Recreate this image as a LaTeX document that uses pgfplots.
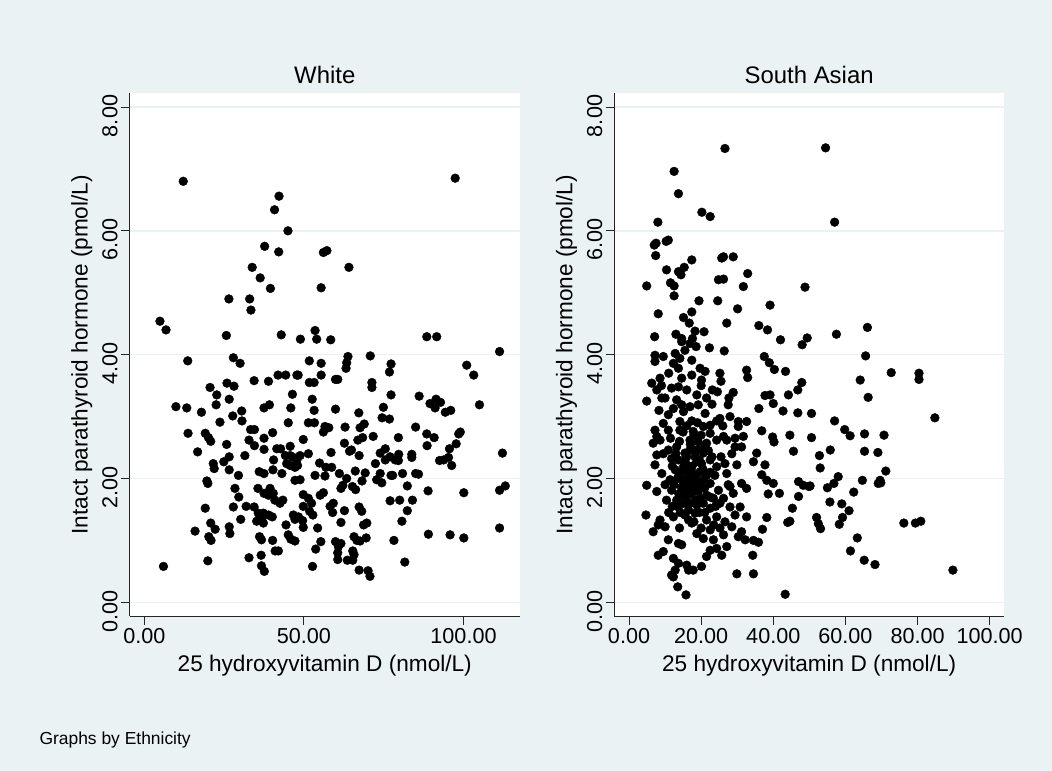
\documentclass[border=0pt]{standalone}
\usepackage{fontspec}
\setmainfont{Liberation Sans}
\usepackage{pgfplots}
\usepackage{pgfplotstable}
\pgfplotsset{compat=1.18}
\definecolor{stbg}{RGB}{234,242,243}
\definecolor{stgrid}{RGB}{234,242,243}

\pgfplotstableread{
x y
12.2 6.80
97.4 6.85
42.2 6.56
40.8 6.34
45.0 6.00
37.7 5.75
42.1 5.66
56.1 5.65
57.2 5.68
64.1 5.41
33.8 5.41
36.3 5.24
39.5 5.07
55.4 5.08
26.5 4.90
33.0 4.90
33.4 4.72
4.9 4.54
6.8 4.40
25.7 4.31
42.9 4.32
48.9 4.25
53.5 4.39
54.0 4.25
58.4 4.24
88.5 4.29
91.6 4.29
111.3 4.05
70.8 3.98
63.8 3.97
63.4 3.87
63.2 3.78
13.6 3.90
27.9 3.95
30.0 3.86
51.7 3.90
55.4 3.86
77.3 3.85
76.8 3.72
101.0 3.83
103.2 3.67
41.9 3.67
44.3 3.67
47.8 3.67
48.2 3.67
55.4 3.67
34.4 3.58
38.9 3.57
59.9 3.60
60.6 3.60
71.3 3.55
71.3 3.47
51.7 3.55
53.2 3.55
20.6 3.47
25.9 3.54
28.1 3.49
22.7 3.35
22.5 3.19
46.4 3.36
26.6 3.28
52.6 3.28
77.3 3.35
86.1 3.33
91.4 3.28
92.8 3.23
89.5 3.21
91.1 3.14
105.0 3.19
9.9 3.16
13.3 3.14
37.5 3.14
39.2 3.19
45.9 3.14
53.2 3.10
59.9 3.12
74.9 3.15
17.9 3.07
30.5 3.09
27.7 3.01
30.6 2.93
67.2 3.06
94.3 3.07
96.0 3.10
74.5 2.98
76.8 2.96
23.7 2.91
45.1 2.90
51.4 2.90
53.3 2.90
56.6 2.84
57.8 2.82
56.1 2.75
62.9 2.83
68.9 2.88
67.6 2.82
85.0 2.83
33.3 2.79
34.5 2.79
40.2 2.74
13.7 2.73
19.1 2.73
20.1 2.66
20.8 2.60
88.5 2.72
90.8 2.66
98.5 2.72
99.0 2.75
97.7 2.56
37.5 2.65
49.8 2.63
68.4 2.66
66.9 2.62
64.9 2.46
64.3 2.44
62.7 2.57
71.7 2.68
79.6 2.66
32.8 2.62
34.5 2.53
25.8 2.55
42.7 2.48
45.7 2.52
41.5 2.48
88.6 2.53
95.6 2.48
37.5 2.47
75.5 2.48
73.9 2.41
77.0 2.35
75.5 2.30
16.7 2.43
31.5 2.37
26.6 2.35
51.4 2.40
44.2 2.37
45.7 2.37
46.7 2.34
47.8 2.30
48.8 2.37
47.2 2.18
45.7 2.21
48.0 2.21
44.6 2.24
58.5 2.42
67.3 2.37
83.8 2.39
83.8 2.34
79.7 2.39
78.6 2.30
79.6 2.29
92.5 2.29
93.8 2.30
95.3 2.34
112.2 2.41
40.5 2.30
40.3 2.14
21.6 2.24
21.9 2.16
24.9 2.27
26.6 2.14
54.9 2.25
56.9 2.18
58.7 2.18
72.4 2.24
96.3 2.21
36.0 2.11
37.5 2.08
43.1 2.08
29.5 2.05
53.5 2.05
56.6 2.04
61.1 2.08
63.4 2.00
66.1 2.12
69.2 2.09
73.9 2.08
72.8 1.98
74.4 1.93
77.3 2.05
77.8 2.05
80.9 2.08
85.9 2.07
85.0 2.08
47.2 1.97
48.8 1.98
68.2 1.96
19.6 1.96
19.9 1.92
111.3 1.81
113.1 1.88
28.4 1.84
35.6 1.84
39.4 1.84
37.5 1.76
38.9 1.73
40.4 1.76
61.6 1.84
62.2 1.89
65.2 1.87
66.2 1.82
82.4 1.88
88.9 1.80
100.1 1.77
49.8 1.74
56.1 1.77
55.1 1.73
29.6 1.70
40.9 1.65
42.5 1.60
43.4 1.65
77.0 1.64
80.0 1.65
84.0 1.65
51.4 1.68
52.4 1.60
58.2 1.55
59.2 1.60
67.3 1.54
68.1 1.47
31.9 1.55
34.4 1.54
27.9 1.54
19.1 1.52
49.8 1.55
51.8 1.47
52.8 1.41
35.7 1.44
37.3 1.44
35.2 1.31
36.7 1.34
59.0 1.45
62.7 1.48
82.4 1.48
40.1 1.38
38.9 1.41
46.7 1.41
48.3 1.38
47.2 1.34
30.2 1.34
37.3 1.28
20.8 1.28
22.2 1.18
44.4 1.25
49.6 1.32
61.6 1.29
69.7 1.28
68.7 1.25
80.7 1.31
26.6 1.22
26.8 1.11
49.8 1.21
54.3 1.20
111.3 1.20
15.9 1.15
89.0 1.10
95.8 1.09
100.1 1.04
20.2 1.06
20.9 1.00
36.1 1.06
36.7 1.01
40.2 1.00
45.1 1.09
45.9 1.02
47.2 0.99
55.3 0.98
59.9 0.98
61.6 0.95
60.8 0.90
65.7 1.06
66.6 1.00
67.6 0.99
69.5 1.04
78.2 1.00
53.7 0.86
41.0 0.83
42.0 0.83
60.6 0.80
60.6 0.69
65.3 0.83
65.7 0.77
32.8 0.72
36.6 0.76
19.9 0.67
63.6 0.68
65.3 0.68
81.6 0.65
6.0 0.58
52.7 0.58
36.7 0.59
37.6 0.50
67.3 0.52
70.1 0.51
70.7 0.42
}\whitedata

\pgfplotstableread{
x y
26.6 7.33
12.5 6.96
13.7 6.60
20.2 6.30
22.5 6.23
8.0 6.14
7.0 5.77
7.5 5.80
10.3 5.83
10.9 5.85
7.4 5.60
17.4 5.53
25.7 5.56
26.2 5.58
28.9 5.58
10.4 5.37
13.7 5.34
15.3 5.41
14.4 5.29
32.9 5.31
4.9 5.11
11.5 5.16
12.5 5.11
24.8 5.21
26.2 5.22
31.7 5.10
48.8 5.09
12.5 4.95
19.4 4.87
24.6 4.87
30.1 4.74
39.1 4.80
8.1 4.66
15.1 4.60
17.4 4.69
16.7 4.51
27.1 4.51
36.0 4.47
38.4 4.40
42.0 4.24
48.0 4.16
49.4 4.27
7.1 4.29
13.0 4.33
14.6 4.26
18.3 4.38
17.6 4.26
20.8 4.37
22.3 4.11
26.4 4.06
54.5 7.34
57.0 6.14
66.1 4.44
57.5 4.33
65.6 3.98
72.7 3.71
80.4 3.70
80.4 3.60
64.1 3.59
66.3 3.31
84.8 2.98
50.6 3.05
57.0 2.93
59.8 2.79
61.3 2.69
65.3 2.72
70.7 2.70
50.6 2.66
55.8 2.46
52.8 2.37
65.3 2.44
69.0 2.42
53.0 2.17
71.2 2.12
58.0 2.03
56.8 1.92
55.0 1.85
64.7 1.97
69.6 1.97
69.1 1.92
69.8 1.93
50.2 1.88
62.3 1.78
55.7 1.62
59.0 1.59
61.0 1.48
52.0 1.37
52.5 1.27
53.1 1.19
59.2 1.37
58.3 1.26
76.2 1.28
79.4 1.28
80.9 1.31
63.3 1.04
61.4 0.83
65.2 0.68
68.2 0.61
89.8 0.52
37.5 3.97
38.9 3.87
40.3 3.76
43.4 3.73
32.6 3.75
32.9 3.63
47.9 3.55
46.8 3.43
44.2 3.35
37.7 3.34
39.1 3.35
40.0 3.21
36.0 3.13
42.7 3.09
46.8 3.06
36.8 2.77
39.8 2.67
40.2 2.59
44.6 2.70
45.6 2.44
35.4 2.41
34.5 2.27
37.7 2.22
36.8 2.06
38.2 1.97
40.0 1.92
41.7 1.76
38.6 1.75
47.0 1.95
48.3 1.89
49.9 1.87
47.0 1.71
45.3 1.52
44.6 1.31
44.0 1.29
38.2 1.37
37.0 1.18
34.5 1.00
35.9 0.97
34.3 0.76
29.9 0.46
34.5 0.46
43.3 0.13
14.6 4.21
16.9 4.18
18.6 4.13
15.5 4.07
12.8 4.02
7.2 3.99
9.5 3.97
14.1 3.94
17.4 3.91
7.2 3.89
12.3 3.86
13.7 3.78
19.7 3.78
21.1 3.73
17.4 3.67
14.6 3.62
20.1 3.59
25.2 3.70
25.5 3.57
6.3 3.54
8.6 3.62
7.7 3.43
11.8 3.46
13.7 3.48
16.0 3.43
18.8 3.35
23.1 3.43
9.1 3.30
4.9 3.25
13.2 3.27
14.6 3.19
19.2 3.19
12.3 3.13
16.9 3.16
27.7 3.30
28.9 3.39
27.5 3.19
8.3 3.10
10.9 3.03
15.1 3.08
21.1 3.05
25.2 2.97
28.0 3.00
30.3 2.92
32.6 2.92
9.5 2.89
14.1 2.92
17.4 2.93
22.5 2.86
24.3 2.93
7.2 2.78
7.7 2.68
10.9 2.78
14.1 2.78
17.8 2.76
20.6 2.84
22.5 2.73
26.2 2.68
29.4 2.65
31.7 2.68
30.3 2.84
6.7 2.57
8.6 2.62
10.9 2.46
13.2 2.51
16.9 2.62
19.2 2.59
21.5 2.57
24.3 2.62
27.1 2.62
29.4 2.51
31.2 2.51
7.7 2.38
11.8 2.32
15.5 2.41
17.8 2.46
20.6 2.41
22.5 2.30
26.6 2.24
29.9 2.22
7.2 2.22
9.1 2.08
12.8 2.14
16.0 2.22
18.8 2.27
24.3 2.19
27.1 2.08
4.9 1.89
7.7 1.79
11.4 1.98
13.7 2.03
15.5 1.98
17.8 2.03
20.6 1.98
22.5 1.92
24.8 1.81
28.0 1.87
31.2 1.92
32.6 1.84
11.8 1.81
14.6 1.84
16.9 1.87
19.2 1.79
21.5 1.73
10.4 1.65
13.2 1.65
16.0 1.71
18.3 1.65
23.4 1.68
26.2 1.68
28.9 1.76
13.7 1.54
16.5 1.49
18.8 1.57
22.5 1.52
25.2 1.60
28.0 1.54
30.8 1.54
20.6 1.60
15.1 2.19
17.4 2.11
19.7 2.11
16.5 1.98
18.8 1.92
17.4 1.76
19.7 1.68
16.0 2.35
18.3 2.35
20.1 2.24
16.9 2.46
19.2 2.46
13.7 2.30
14.6 1.73
18.3 1.44
16.5 1.33
4.7 1.41
8.6 1.33
6.7 1.14
10.0 1.22
12.3 1.38
15.5 1.41
21.5 1.33
24.3 1.38
26.6 1.30
29.4 1.41
32.6 1.38
17.4 1.28
22.5 1.17
25.2 1.20
28.5 1.22
31.2 1.14
8.1 1.25
10.9 1.01
13.7 0.95
14.6 0.93
18.8 1.11
20.6 1.03
23.4 1.01
26.2 1.09
30.3 1.06
32.2 1.01
8.1 0.76
9.5 0.82
12.3 0.71
13.7 0.63
16.0 0.60
17.8 0.52
20.1 0.58
21.5 0.74
22.5 0.84
24.3 0.87
25.7 0.76
27.1 0.90
12.8 0.52
16.5 0.52
11.8 0.44
13.5 0.25
15.8 0.12
12.3 0.41
13.0 2.40
14.0 2.60
15.0 2.75
16.0 2.85
17.0 2.55
18.0 2.70
19.0 2.90
20.0 2.70
21.0 2.50
22.0 2.45
23.0 2.35
12.0 2.20
13.5 2.00
14.5 2.10
15.5 2.30
16.5 2.10
17.5 2.20
18.5 2.05
19.5 2.30
20.5 2.15
21.5 2.05
22.5 2.10
12.5 1.90
13.8 1.75
15.0 1.90
16.2 1.80
17.2 1.95
18.2 1.80
19.0 1.95
20.0 1.85
21.0 1.85
22.5 1.70
24.0 1.55
12.0 1.55
14.2 1.45
15.2 1.60
17.0 1.60
18.0 1.30
19.5 1.45
21.0 1.45
20.0 1.20
23.5 1.25
14.0 1.20
11.0 1.45
10.0 1.90
9.5 2.40
11.5 2.65
10.0 3.30
11.0 3.70
9.0 3.50
23.0 3.20
24.5 3.40
21.5 3.30
20.0 3.50
26.0 2.85
28.5 2.40
27.5 1.90
25.5 2.35
23.8 2.05
}\asiandata

\pgfplotsset{
  stata/.style={
    scale only axis,
    height=523.5bp,
    axis x line*=bottom, axis y line*=left,
    axis line style={-, line width=0.9bp, black!85},
    axis background/.style={fill=white},
    tick align=outside,
    major tick length=8.5bp,
    every tick/.style={line width=0.9bp, black!85},
    ymin=-0.229, ymax=8.226,
    ytick={0,2,4,6,8},
    ymajorgrids,
    major grid style={line width=1.5bp, stgrid},
    /pgf/number format/.cd, fixed, fixed zerofill, precision=2, assume math mode=true, /pgfplots/.cd,
    tick label style={font=\fontsize{21.7}{26}\selectfont},
    yticklabel style={rotate=90, anchor=south, xshift=-9bp},
    label style={font=\fontsize{22.7}{27}\selectfont},
    xlabel={25 hydroxyvitamin D (nmol/L)},
    ylabel={Intact parathyroid hormone (pmol/L)},
    xlabel style={at={(axis description cs:0.5,-0.0936)}, anchor=center},
    title style={font=\fontsize{24}{28}\selectfont, at={(axis description cs:0.5,1)}, anchor=base, yshift=4bp},
  }
}

\begin{document}
\begin{tikzpicture}
\useasboundingbox (0,0) rectangle (1052bp,771bp);
\fill[stbg] (0,0) rectangle (1052bp,771bp);

\begin{axis}[stata,
  at={(129.5bp,154.5bp)}, anchor=south west,
  width=390.5bp,
  xmin=-4.64, xmax=117.7,
  xtick={0,50,100},
  ylabel style={at={(axis description cs:-0.1224,0.5)}, anchor=center},
  title={White}]
\addplot[only marks, mark=*, mark size=4.4bp, black] table {\whitedata};
\end{axis}

\begin{axis}[stata,
  at={(614.3bp,154.5bp)}, anchor=south west,
  width=389.7bp,
  xmin=-4.08, xmax=103.97,
  xtick={0,20,40,60,80,100},
  ylabel style={at={(axis description cs:-0.1227,0.5)}, anchor=center},
  title={South Asian}]
\addplot[only marks, mark=*, mark size=4.4bp, black] table {\asiandata};
\end{axis}

\node[anchor=base west, font=\fontsize{17.5}{21}\selectfont] at (36bp,27bp) {Graphs by Ethnicity};
\end{tikzpicture}
\end{document}
